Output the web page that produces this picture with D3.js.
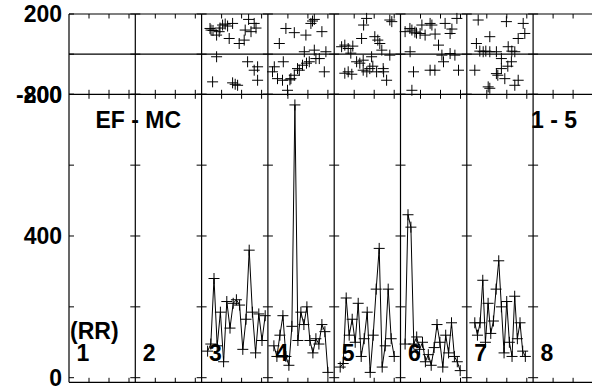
<!DOCTYPE html>
<html>
<head>
<meta charset="utf-8">
<script src="https://cdn.jsdelivr.net/npm/d3@7"></script>
<style>
  html, body { margin: 0; padding: 0; background: #fff; }
  svg { display: block; }
  text { font-family: "Liberation Sans", Arial, Helvetica, sans-serif; font-weight: bold; fill: #000; }
</style>
</head>
<body>
<svg id="chart" width="592" height="386"></svg>
<script>
// ---------------- DATA ----------------
const columns = ["1", "2", "3", "4", "5", "6", "7", "8"];

// upper panel: scatter (time within column, value)
const top3T = [4.2, 5.7, 7.5, 8.8, 10.5, 11.8, 13, 13.8, 15.5, 18.8, 21.3, 21.8, 23.5, 24.7, 26.3, 27.2, 7.5, 5.5, 23, 26.3, 28, 28, 15.5, 16.8, 18, 4.7, 9.2];
const top3V = [128, 118, 95, 112, 145, 150, 140, 78, 153, 53, 70, 120, 173, 112, 153, 130, -13, -138, -38, -80, -63, -130, -143, -150, -155, 120, 130];
const top4T = [5.7, 9, 13.2, 19, 21.5, 23.2, 22.3, 27, 18.2, 23.2, 25.7, 29, 3.2, 7.7, 4.8, 7.3, 11.5, 13.2, 14.8, 17.3, 20.7, 24, 28.2, 9.8, 2.3, 15.7, 19.3, 11];
const top4V = [53, 128, 107, 95, 153, 173, 165, 112, 12, 20, -22, 12, -63, -38, -122, -130, -122, -105, -72, -55, -38, -22, -88, -180, -88, -80, -45, -128];
const top5T = [3.7, 5.3, 7, 8.3, 9.3, 11.2, 12.8, 14.5, 13.7, 14.7, 16.2, 18.7, 20.3, 21.8, 22.8, 17.8, 19.3, 21.2, 7, 5.3, 8.8, 14.5, 16.3, 24.5, 26.2, 27.8, 27.8, 28.8, 23.8, 24.7];
const top5V = [37, 45, 28, 5, 40, -38, -45, -30, 78, 145, 178, -13, 87, 70, 53, -72, -60, -88, -88, -95, -100, -80, -88, -72, -130, -5, 170, 162, 20, -88];
const top6T = [2.3, 4.7, 5.7, 7.2, 8, 9.8, 10.7, 12.3, 14.8, 15.7, 17.3, 22.3, 24.8, 25.7, 28.2, 19, 4.8, 20.7, 21.5, 24.8, 6.5, 14.8, 17.2, 29, 5.7, 27.2];
const top6V = [112, 128, 120, 110, 105, 103, 145, 95, 153, 145, 100, 153, 103, 125, 178, 45, 12, -5, -38, 3, -88, -80, -80, -80, -180, -5];
const top7T = [5.7, 19.8, 28.2, 29, 25.7, 11.5, 4.8, 8.2, 6.5, 9.5, 11.5, 14.8, 20.7, 22.5, 24, 17.3, 22.3, 4, 17.3, 14.8, 15.5, 19, 25.7, 24, 10.7, 11.5, 20.5];
const top7V = [170, 162, 153, 103, 78, 87, 53, 12, 15, 15, 12, 12, 37, 15, 12, -22, -38, -80, -72, -97, -105, -122, -130, -155, -163, -170, -60];

// lower panel: (RR) series, regularly sampled within each column
const rr3 = [75, 95, 280, 90, 185, 45, 215, 140, 210, 220, 205, 80, 165, 360, 185, 70, 180, 105, 175];
const rr4 = [90, 60, 120, 175, 60, 35, 145, 770, 105, 185, 150, 200, 105, 70, 110, 95, 150, 130, 15];
const rr5 = [30, 40, 225, 120, 165, 100, 210, 60, 110, 185, 15, 120, 250, 365, 30, 90, 250, 110, 60];
const rr6 = [95, 460, 425, 95, 115, 80, 100, 45, 65, 35, 85, 150, 100, 30, 120, 70, 155, 60, 45, 20];
const rr7 = [155, 120, 155, 275, 100, 210, 125, 160, 250, 330, 200, 70, 215, 100, 60, 230, 110, 155, 75, 60];
const rrStart = [3, 3, 3, 2.3, 4];      // first sample time in each of columns 3..7
const rrStep  = [1.6, 1.5, 1.5, 1.45, 1.33]; // sample interval

const topTicks = [-200, 0, 200];
const topTickLabels = ["-200", "", "200"];
const botTicks = [0, 200, 400, 600, 800];
const botTickLabels = ["0", "", "400", "", "800"];
const timeTicks = [10, 20, 30];
const columnLabels = ["1", "2", "3", "4", "5", "6", "7", "8"];
const titleLeft = "EF - MC";
const titleRight = "1 - 5";
const seriesLabel = "(RR)";

// ---------------- LAYOUT ----------------
const svg = d3.select("#chart");
const left = 69, colW = 66.3;
const xCol = d3.scaleBand().domain(columns).range([left, left + colW * columns.length]).padding(0);
const tMax = 33.15;
const yTop = d3.scaleLinear().domain([-200, 200]).range([94.3, 14]);
const yBot = d3.scaleLinear().domain([-13, 800]).range([382.3, 94.3]);
const fs = 23;

function tScale(col) {
  const x0 = xCol(col);
  return d3.scaleLinear().domain([0, tMax]).range([x0, x0 + xCol.bandwidth()]);
}

const g = svg.append("g").attr("stroke", "#000").attr("fill", "none").attr("stroke-width", 1);
const right = left + colW * columns.length;

// frame lines
[yTop(200), yTop(0), yTop(-200), yBot.range()[0]].forEach(y => {
  g.append("line").attr("x1", left).attr("x2", right).attr("y1", y).attr("y2", y)
    .attr("stroke-width", 1.2);
});
columns.forEach(c => {
  g.append("line").attr("x1", xCol(c)).attr("x2", xCol(c))
    .attr("y1", yTop(200)).attr("y2", yBot.range()[0]).attr("stroke-width", 1.2);
});

// ticks
const tl = 4.5;
columns.forEach((c, i) => {
  const xs = tScale(c);
  timeTicks.forEach(t => {
    const x = xs(t);
    g.append("line").attr("x1", x).attr("x2", x).attr("y1", yTop(200)).attr("y2", yTop(200) + tl);
    g.append("line").attr("x1", x).attr("x2", x).attr("y1", yTop(-200) - tl).attr("y2", yTop(-200) + tl);
    g.append("line").attr("x1", x).attr("x2", x).attr("y1", yBot.range()[0] - tl).attr("y2", yBot.range()[0]);
  });
  const x0 = xCol(c), x1 = x0 + xCol.bandwidth();
  const ys = topTicks.map(v => yTop(v)).concat(botTicks.map(v => yBot(v)));
  ys.forEach(y => {
    g.append("line").attr("x1", x0).attr("x2", x0 + 5).attr("y1", y).attr("y2", y);
    g.append("line").attr("x1", x1 - 5).attr("x2", x1).attr("y1", y).attr("y2", y);
  });
});

// y-axis labels
const lab = svg.append("g").attr("font-size", fs).attr("text-anchor", "end");
topTicks.forEach((v, i) => {
  if (topTickLabels[i]) lab.append("text").attr("x", 62).attr("y", yTop(v) + fs * 0.36).text(topTickLabels[i]);
});
botTicks.forEach((v, i) => {
  if (botTickLabels[i]) lab.append("text").attr("x", 62).attr("y", yBot(v) + fs * 0.36).text(botTickLabels[i]);
});

// marker
const plus = "M-5.5,0H5.5M0,-5.5V5.5";

// top scatter
const topData = { "3": [top3T, top3V], "4": [top4T, top4V], "5": [top5T, top5V], "6": [top6T, top6V], "7": [top7T, top7V] };
Object.entries(topData).forEach(([c, [ts, vs]]) => {
  const xs = tScale(c);
  g.selectAll(null).data(ts.map((t, i) => [t, vs[i]])).enter().append("path")
    .attr("d", plus).attr("transform", d => `translate(${xs(d[0])},${yTop(d[1])})`);
});

// bottom series
const rrData = [["3", rr3], ["4", rr4], ["5", rr5], ["6", rr6], ["7", rr7]];
rrData.forEach(([c, vals], k) => {
  const xs = tScale(c);
  const pts = vals.map((v, i) => [rrStart[k] + i * rrStep[k], v]);
  const line = d3.line().x(d => xs(d[0])).y(d => yBot(d[1]));
  g.append("path").attr("d", line(pts)).attr("stroke-width", 1);
  g.selectAll(null).data(pts).enter().append("path")
    .attr("d", plus).attr("transform", d => `translate(${xs(d[0])},${yBot(d[1])})`);
});

// text labels
const txt = svg.append("g").attr("font-size", fs);
txt.append("text").attr("x", xCol("2") + 3).attr("y", 128).attr("text-anchor", "middle").text(titleLeft);
txt.append("text").attr("x", xCol("8") - 2).attr("y", 128).text(titleRight);
txt.append("text").attr("x", xCol("1") + 1).attr("y", 339).text(seriesLabel);
columnLabels.forEach((l, i) => {
  txt.append("text").attr("x", xCol(columns[i]) + 7.5).attr("y", 361).text(l);
});
</script>
</body>
</html>
